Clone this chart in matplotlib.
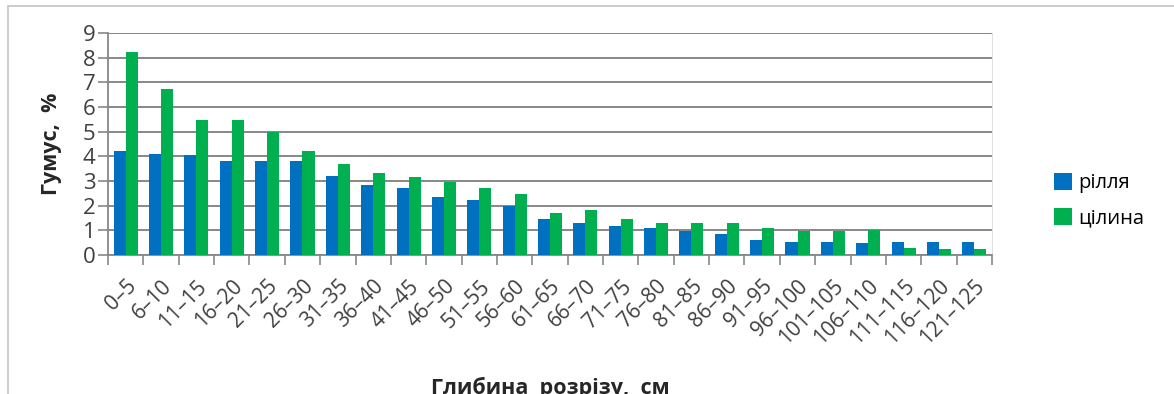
import numpy as np
import matplotlib.pyplot as plt
from matplotlib.patches import Rectangle

plt.rcParams['font.family'] = ['Open Sans', 'DejaVu Sans']

# depth intervals, cm
depths = ["0–5", "6–10", "11–15", "16–20", "21–25", "26–30", "31–35", "36–40",
          "41–45", "46–50", "51–55", "56–60", "61–65", "66–70", "71–75", "76–80",
          "81–85", "86–90", "91–95", "96–100", "101–105", "106–110", "111–115",
          "116–120", "121–125"]

# humus content, %
rillia = [4.2, 4.1, 4.05, 3.8, 3.8, 3.8, 3.2, 2.84, 2.71, 2.37, 2.23, 1.99, 1.46,
          1.31, 1.18, 1.08, 0.99, 0.85, 0.61, 0.54, 0.54, 0.5, 0.51, 0.51, 0.51]
tsilyna = [8.25, 6.74, 5.48, 5.46, 4.98, 4.2, 3.69, 3.33, 3.18, 2.95, 2.71, 2.46,
           1.69, 1.83, 1.45, 1.31, 1.31, 1.31, 1.08, 0.99, 0.99, 1.01, 0.27, 0.24, 0.24]

blue = "#0070C0"
green = "#00B050"
grid_c = "#878787"

fig = plt.figure(figsize=(11.74, 3.94), dpi=100)
ax = fig.add_axes([108 / 1174, 1 - 255 / 394, 884 / 1174, 222 / 394])

x = np.arange(len(depths))
w = 0.34
ax.bar(x - w / 2, rillia, w, color=blue, label="рілля", zorder=3)
ax.bar(x + w / 2, tsilyna, w, color=green, label="цілина", zorder=3)

ax.set_xlim(-0.5, len(depths) - 0.5)
ax.set_ylim(0, 9)
ax.set_yticks(range(10))
ax.yaxis.grid(True, color=grid_c, linewidth=1.4, zorder=0)

# category labels on the centers, tick marks on the boundaries
ax.set_xticks(x)
ax.set_xticklabels(depths, rotation=45, ha="right", rotation_mode="anchor")
ax.set_xticks(np.arange(-0.5, len(depths)), minor=True)
ax.tick_params(axis="x", which="major", length=0, pad=15, labelsize=15, colors="#404040")
ax.tick_params(axis="x", which="minor", length=7, width=1.2, color=grid_c)
ax.tick_params(axis="y", length=7, width=1.2, color=grid_c, pad=2, labelsize=16,
               labelcolor="#404040")

ax.spines["top"].set_visible(False)
ax.spines["right"].set_color("#e0e0e0")
ax.spines["left"].set_color(grid_c)
ax.spines["bottom"].set_color(grid_c)
ax.spines["left"].set_linewidth(1.3)
ax.spines["bottom"].set_linewidth(1.3)

fig.text(52 / 1174, 1 - 144 / 394, "Гумус,  %", rotation=90, ha="center", va="center",
         fontsize=15.5, fontweight="bold", color="#262626")
fig.text(550 / 1174, 1 - 377 / 394, "Глибина  розрізу,  см", ha="center", va="top",
         fontsize=15.5, fontweight="bold", color="#262626")

fig.legend(loc="upper left", bbox_to_anchor=(1046 / 1174, 1 - 165 / 394),
           frameon=False, fontsize=14.5, handlelength=0.9, handleheight=0.9,
           handletextpad=0.3, labelspacing=0.75, borderaxespad=0)

# chart area border
fig.patches.append(Rectangle((8 / 1174, -0.1), 1.2, 1 - 6 / 394 + 0.1,
                             transform=fig.transFigure, fill=False,
                             edgecolor="#c8c8c8", linewidth=1.3))

fig.savefig("out.png", dpi=100)
